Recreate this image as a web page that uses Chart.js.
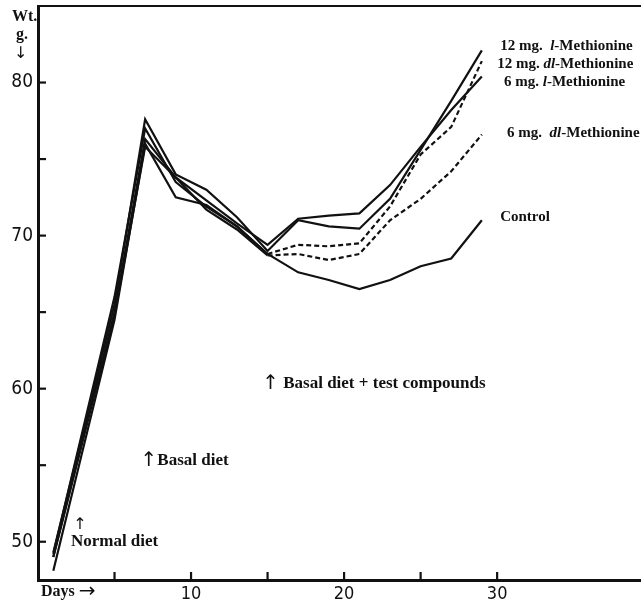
<!DOCTYPE html>
<html>
<head>
<meta charset="utf-8">
<script src="https://cdn.jsdelivr.net/npm/chart.js@4.4.1/dist/chart.umd.min.js"></script>
<style>
  html, body { margin: 0; padding: 0; background: #fff; }
  #wrap { width: 641px; height: 606px; }
</style>
</head>
<body>
<div id="wrap"><canvas id="c" width="641" height="606"></canvas></div>
<script>
// ---- data ----
const days = [1, 5, 7, 9, 11, 13, 15, 17, 19, 21, 23, 25, 27, 29];
const mg12L  = [49.3, 65.5, 77.6, 74.0, 73.0, 71.2, 69.0, 71.0, 70.6, 70.45, 72.4, 75.6, 78.8, 82.1];
const mg6L   = [49.0, 65.0, 76.3, 73.8, 72.3, 70.8, 69.4, 71.1, 71.3, 71.45, 73.3, 75.8, 78.2, 80.4];
const mg12DL = [49.2, 66.0, 77.0, 73.5, 71.9, 70.6, 68.8, 69.4, 69.3, 69.5, 71.9, 75.3, 77.1, 81.4];
const mg6DL  = [49.0, 64.8, 75.8, 73.8, 71.7, 70.4, 68.7, 68.8, 68.4, 68.8, 71.0, 72.4, 74.2, 76.6];
const control= [48.1, 64.5, 76.0, 72.5, 72.0, 70.6, 68.8, 67.6, 67.1, 66.5, 67.1, 68.0, 68.5, 71.0];
const dashFromDay = 15;
const yLabelTicks = [50, 60, 70, 80];
const yMinorTicks = [50, 55, 60, 65, 70, 75, 80];
const xLabelTicks = [10, 20, 30];
const xMinorTicks = [5, 10, 15, 20, 25, 30];

const SERIF = '"Liberation Serif", "DejaVu Serif", serif';
const SANS = '"DejaVu Sans Condensed", "Liberation Sans", sans-serif';

function pts(arr) { return days.map((d, i) => ({ x: d, y: arr[i] })); }

function ds(label, arr, dashed) {
  const o = {
    label, data: pts(arr), borderColor: '#111', borderWidth: 2.2,
    pointRadius: 0, tension: 0, fill: false
  };
  if (dashed) {
    o.segment = { borderDash: c => c.p0.parsed.x >= dashFromDay ? [5, 3] : [] };
  }
  return o;
}

function drawRich(ctx, x, y, segs) {
  let cx = x;
  for (const s of segs) {
    ctx.font = s.f;
    ctx.fillText(s.t, cx, y);
    cx += ctx.measureText(s.t).width;
  }
}

const B15 = 'bold 15px ' + SERIF;
const BI15 = 'italic bold 15px ' + SERIF;
const B16 = 'bold 16px ' + SERIF;
const B17 = 'bold 17px ' + SERIF;
const ARW = '20px "DejaVu Sans", sans-serif';
const ARWS = '16px "DejaVu Sans", sans-serif';

const decor = {
  id: 'decor',
  afterDraw(chart) {
    const ctx = chart.ctx;
    const xs = chart.scales.x, ys = chart.scales.y;
    const a = chart.chartArea;
    ctx.save();
    ctx.strokeStyle = '#111';
    // top border
    ctx.lineWidth = 2;
    ctx.beginPath(); ctx.moveTo(a.left, a.top); ctx.lineTo(a.right, a.top); ctx.stroke();
    // inward ticks
    ctx.lineWidth = 2.2;
    for (const v of yMinorTicks) {
      const p = ys.getPixelForValue(v);
      ctx.beginPath(); ctx.moveTo(a.left, p); ctx.lineTo(a.left + 8, p); ctx.stroke();
    }
    for (const v of xMinorTicks) {
      const p = xs.getPixelForValue(v);
      ctx.beginPath(); ctx.moveTo(p, a.bottom); ctx.lineTo(p, a.bottom - 8); ctx.stroke();
    }
    // annotations
    ctx.fillStyle = '#111';
    ctx.textBaseline = 'middle';
    ctx.textAlign = 'left';
    const P = (d, v) => [xs.getPixelForValue(d), ys.getPixelForValue(v)];
    let q;
    q = P(30.2, 82.35);
    drawRich(ctx, q[0], q[1], [{t: '12 mg.  ', f: B15}, {t: 'l', f: BI15}, {t: '-Methionine', f: B15}]);
    q = P(30.0, 81.2);
    drawRich(ctx, q[0], q[1], [{t: '12 mg. ', f: B15}, {t: 'dl', f: BI15}, {t: '-Methionine', f: B15}]);
    q = P(30.45, 80.05);
    drawRich(ctx, q[0], q[1], [{t: '6 mg. ', f: B15}, {t: 'l', f: BI15}, {t: '-Methionine', f: B15}]);
    q = P(30.65, 76.7);
    drawRich(ctx, q[0], q[1], [{t: '6 mg.  ', f: B15}, {t: 'dl', f: BI15}, {t: '-Methionine', f: B15}]);
    q = P(30.2, 71.2);
    drawRich(ctx, q[0], q[1], [{t: 'Control', f: B15}]);
    q = P(14.65, 60.35);
    drawRich(ctx, q[0], q[1], [{t: '↑', f: ARW}, {t: ' Basal diet + test compounds', f: B17}]);
    q = P(6.7, 55.3);
    drawRich(ctx, q[0], q[1], [{t: '↑', f: ARW}, {t: 'Basal diet', f: B17}]);
    q = P(2.3, 51.1);
    drawRich(ctx, q[0], q[1], [{t: '↑', f: ARWS}]);
    q = P(2.15, 50.0);
    drawRich(ctx, q[0], q[1], [{t: 'Normal diet', f: B17}]);
    // axis captions
    drawRich(ctx, a.left + 3, a.bottom + 12, [{t: 'Days ', f: B16}, {t: '→', f: ARW}]);
    drawRich(ctx, 12, 17, [{t: 'Wt.', f: B16}]);
    drawRich(ctx, 16, 35, [{t: 'g.', f: B16}]);
    drawRich(ctx, 14, 54, [{t: '↓', f: ARWS}]);
    ctx.restore();
  }
};

new Chart(document.getElementById('c'), {
  type: 'line',
  data: {
    datasets: [
      ds('12 mg. l-Methionine', mg12L, false),
      ds('6 mg. l-Methionine', mg6L, false),
      ds('12 mg. dl-Methionine', mg12DL, true),
      ds('6 mg. dl-Methionine', mg6DL, true),
      ds('Control', control, false)
    ]
  },
  options: {
    responsive: false,
    animation: false,
    devicePixelRatio: 1,
    layout: { padding: { top: 6, right: 0, left: 0, bottom: 0 } },
    plugins: { legend: { display: false }, tooltip: { enabled: false } },
    scales: {
      x: {
        type: 'linear', min: 0, max: 39.4,
        afterFit(s) { s.height = 26; s.paddingLeft = 0; s.paddingRight = 0; },
        grid: { display: false, drawTicks: false },
        border: { display: true, color: '#111', width: 3 },
        ticks: {
          stepSize: 5, padding: 4, color: '#111', autoSkip: false, maxRotation: 0,
          font: { family: SANS, size: 18 },
          callback: v => xLabelTicks.includes(v) ? String(v) : ''
        }
      },
      y: {
        type: 'linear', min: 47.5, max: 85,
        afterFit(s) { s.width = 38; s.paddingTop = 0; s.paddingBottom = 0; },
        grid: { display: false, drawTicks: false },
        border: { display: true, color: '#111', width: 3 },
        ticks: {
          stepSize: 5, padding: 5, color: '#111', autoSkip: false,
          font: { family: SANS, size: 19 },
          callback: v => yLabelTicks.includes(v) ? String(v) : ''
        }
      }
    }
  },
  plugins: [decor]
});
</script>
</body>
</html>
